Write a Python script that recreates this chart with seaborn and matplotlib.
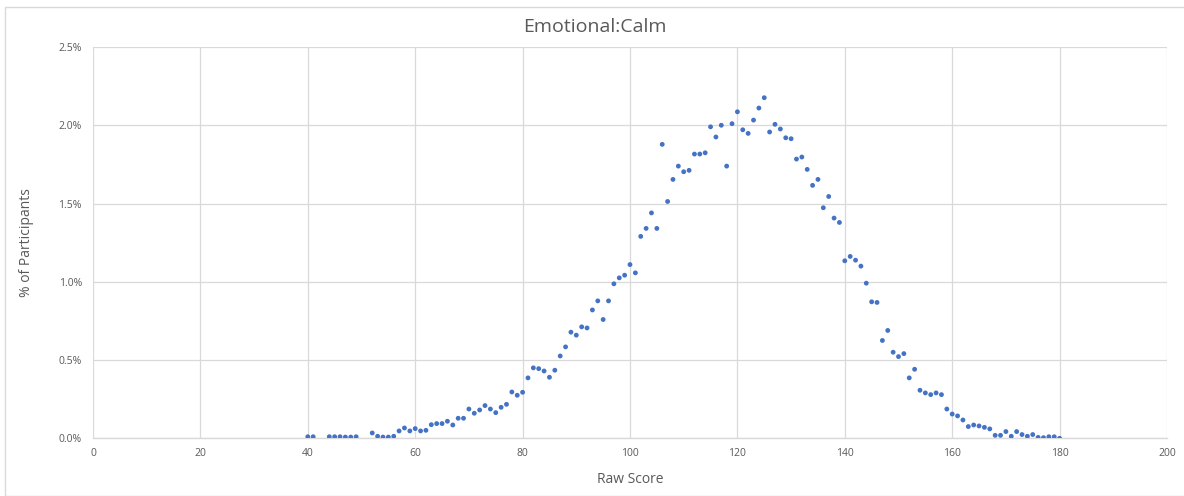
import matplotlib
matplotlib.use("Agg")
import matplotlib.pyplot as plt
import matplotlib.ticker as mticker
from matplotlib.patches import Rectangle
import seaborn as sns
import pandas as pd

title = "Emotional:Calm"
x_label = "Raw Score"
y_label = "% of Participants"

scores = [40, 41, 44, 45, 46, 47, 48, 49, 52, 53, 54, 55, 56, 57, 58, 59, 60, 61, 62, 63,
          64, 65, 66, 67, 68, 69, 70, 71, 72, 73, 74, 75, 76, 77, 78, 79, 80, 81, 82, 83,
          84, 85, 86, 87, 88, 89, 90, 91, 92, 93, 94, 95, 96, 97, 98, 99, 100, 101, 102, 103,
          104, 105, 106, 107, 108, 109, 110, 111, 112, 113, 114, 115, 116, 117, 118, 119, 120,
          121, 122, 123, 124, 125, 126, 127, 128, 129, 130, 131, 132, 133, 134, 135, 136, 137,
          138, 139, 140, 141, 142, 143, 144, 145, 146, 147, 148, 149, 150, 151, 152, 153, 154,
          155, 156, 157, 158, 159, 160, 161, 162, 163, 164, 165, 166, 167, 168, 169, 170, 171,
          172, 173, 174, 175, 176, 177, 178, 179, 180]

pct = [0.010, 0.010, 0.010, 0.010, 0.010, 0.008, 0.008, 0.010, 0.034, 0.013, 0.008, 0.008,
       0.013, 0.047, 0.066, 0.047, 0.062, 0.047, 0.051, 0.087, 0.094, 0.094, 0.109, 0.085,
       0.128, 0.128, 0.187, 0.160, 0.181, 0.209, 0.187, 0.164, 0.198, 0.217, 0.296, 0.275,
       0.294, 0.386, 0.450, 0.445, 0.430, 0.390, 0.435, 0.526, 0.584, 0.678, 0.659, 0.712,
       0.705, 0.820, 0.878, 0.759, 0.878, 0.987, 1.025, 1.042, 1.110, 1.057, 1.290, 1.341,
       1.440, 1.341, 1.878, 1.513, 1.654, 1.739, 1.703, 1.712, 1.816, 1.816, 1.824, 1.990,
       1.925, 2.000, 1.739, 2.010, 2.086, 1.971, 1.948, 2.033, 2.110, 2.176, 1.957, 2.006,
       1.976, 1.920, 1.914, 1.784, 1.797, 1.718, 1.616, 1.654, 1.473, 1.545, 1.407, 1.379,
       1.134, 1.162, 1.138, 1.100, 0.991, 0.872, 0.868, 0.625, 0.689, 0.550, 0.522, 0.541,
       0.386, 0.441, 0.307, 0.290, 0.279, 0.290, 0.279, 0.187, 0.155, 0.143, 0.117, 0.075,
       0.085, 0.079, 0.070, 0.060, 0.019, 0.019, 0.043, 0.013, 0.043, 0.024, 0.013, 0.024,
       0.006, 0.004, 0.010, 0.010, 0.000]

x_ticks = [0, 20, 40, 60, 80, 100, 120, 140, 160, 180, 200]
y_ticks = [0.0, 0.5, 1.0, 1.5, 2.0, 2.5]

df = pd.DataFrame({"score": scores, "pct": pct})

sns.set_theme(style="white")
plt.rcParams["font.family"] = ["Open Sans", "DejaVu Sans"]

fig = plt.figure(figsize=(11.84, 4.96), dpi=100)
ax = fig.add_axes([93 / 1184, 1 - 438.3 / 496, (1167 - 93) / 1184, (438.3 - 47) / 496])

sns.scatterplot(data=df, x="score", y="pct", ax=ax, color="#4472C4", s=12,
                edgecolor="none", linewidth=0, zorder=3)

ax.set_xlim(0, 200)
ax.set_ylim(0, 2.5)
ax.set_xticks(x_ticks)
ax.set_yticks(y_ticks)
ax.yaxis.set_major_formatter(mticker.FuncFormatter(lambda v, p: f"{v:.1f}%"))
ax.grid(True, color="#d9d9d9", linewidth=0.9)
ax.set_axisbelow(True)
for side in ["top", "right", "left"]:
    ax.spines[side].set_visible(False)
ax.spines["bottom"].set_color("#d9d9d9")
ax.spines["bottom"].set_linewidth(1.0)
ax.tick_params(axis="x", length=0, labelsize=7.5, labelcolor="#595959", pad=7)
ax.tick_params(axis="y", length=0, labelsize=7.5, labelcolor="#595959", pad=8)

ax.set_xlabel(x_label, fontsize=10, color="#595959", labelpad=9)
ax.set_ylabel(y_label, fontsize=10, color="#595959", labelpad=18)
fig.text(595 / 1184, 1 - 27 / 496, title, ha="center", va="center",
         fontsize=14, color="#595959")

fig.patches.append(Rectangle((5 / 1184, 0), 1.0, 1 - 7 / 496, transform=fig.transFigure,
                             fill=False, edgecolor="#d9d9d9", linewidth=1.0))

fig.savefig("out.png", dpi=100)
